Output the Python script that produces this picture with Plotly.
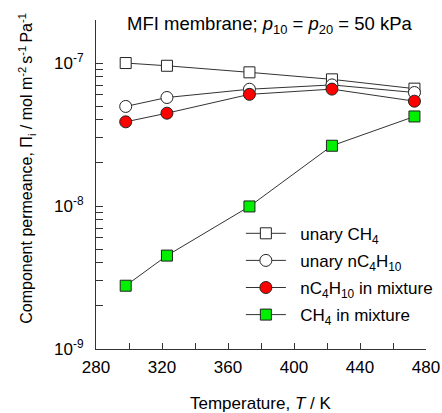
import plotly.graph_objects as go

# Temperatures (K) and component permeances (mol m^-2 s^-1 Pa^-1)
temperature = [298, 323, 373, 423, 473]
unary_ch4 = [1.00e-7, 9.57e-8, 8.61e-8, 7.69e-8, 6.62e-8]
unary_nc4 = [4.97e-8, 5.74e-8, 6.56e-8, 7.03e-8, 6.22e-8]
mix_nc4 = [3.88e-8, 4.46e-8, 6.04e-8, 6.57e-8, 5.41e-8]
mix_ch4 = [2.77e-9, 4.50e-9, 9.93e-9, 2.64e-8, 4.23e-8]

x_ticks = [280, 320, 360, 400, 440, 480]
decades = [-9, -8, -7]

FONT = "Liberation Sans, Arial, sans-serif"
LINE = "#333333"

fig = go.Figure()

series = [
    ("unary CH<sub>4</sub>", unary_ch4, "square", "white", 11),
    ("unary nC<sub>4</sub>H<sub>10</sub>", unary_nc4, "circle", "white", 12),
    ("nC<sub>4</sub>H<sub>10</sub> in mixture", mix_nc4, "circle", "#ff0000", 12),
    ("CH<sub>4</sub> in mixture", mix_ch4, "square", "#00f000", 11),
]
for i, (name, vals, sym, fill, size) in enumerate(series):
    fig.add_trace(go.Scatter(
        x=temperature, y=vals, name="\u00a0\u00a0" + name, mode="lines+markers",
        legendgroup=f"g{i}",
        line=dict(color=LINE, width=1),
        marker=dict(symbol=sym, size=size, color=fill,
                    line=dict(color="#222222", width=1)),
    ))

# log-axis ticks: labelled decades plus unlabelled 2..9 minors
y_vals, y_text = [], []
for d in decades:
    for m in range(1, 10):
        y_vals.append(m * 10.0 ** d)
        y_text.append(f"10<sup>{d}</sup>" if m == 1 else "")
y_vals.append(2e-7)
y_text.append("")

fig.update_layout(
    width=442, height=413,
    margin=dict(l=96, r=16, t=20, b=64, autoexpand=False),
    paper_bgcolor="white", plot_bgcolor="white",
    font=dict(family=FONT, size=17, color="black"),
    showlegend=True,
    legend=dict(x=0.439, y=0.405, xanchor="left", yanchor="top",
                bgcolor="rgba(0,0,0,0)", font=dict(size=17),
                itemwidth=40, tracegroupgap=2),
    xaxis=dict(
        range=[280, 480], tickvals=x_ticks,
        ticks="inside", ticklen=6, tickcolor=LINE,
        minor=dict(dtick=20, tick0=280, ticks="inside", ticklen=6, tickcolor=LINE),
        showline=True, linecolor=LINE, linewidth=1, showgrid=False, zeroline=False,
        automargin=False, ticklabelstandoff=3,
        tickfont=dict(size=17),
    ),
    yaxis=dict(
        type="log", range=[-9, -6.699],
        tickvals=y_vals, ticktext=y_text,
        ticks="inside", ticklen=7, tickcolor=LINE,
        showline=True, linecolor=LINE, linewidth=1, showgrid=False, zeroline=False,
        automargin=False, ticklabelstandoff=8,
        tickfont=dict(size=17),
    ),
    annotations=[
        dict(text="MFI membrane; <i>p</i><sub>10</sub> = <i>p</i><sub>20</sub> = 50 kPa",
             xref="paper", yref="paper", x=0.527, y=0.985,
             xanchor="center", yanchor="middle", showarrow=False,
             font=dict(size=18.5)),
        dict(text="Temperature, <i>T</i> / K",
             xref="paper", yref="paper", x=0.498, y=-0.167,
             xanchor="center", yanchor="middle", showarrow=False,
             font=dict(size=17)),
        dict(text="Component permeance, \u03a0<sub>i</sub> / mol m<sup>-2 </sup>s<sup>-1 </sup>Pa<sup>-1</sup>",
             xref="paper", yref="paper", x=-0.21, y=0.55, textangle=-90,
             xanchor="center", yanchor="middle", showarrow=False,
             font=dict(size=16)),
    ],
)

fig.write_html("out.html")
